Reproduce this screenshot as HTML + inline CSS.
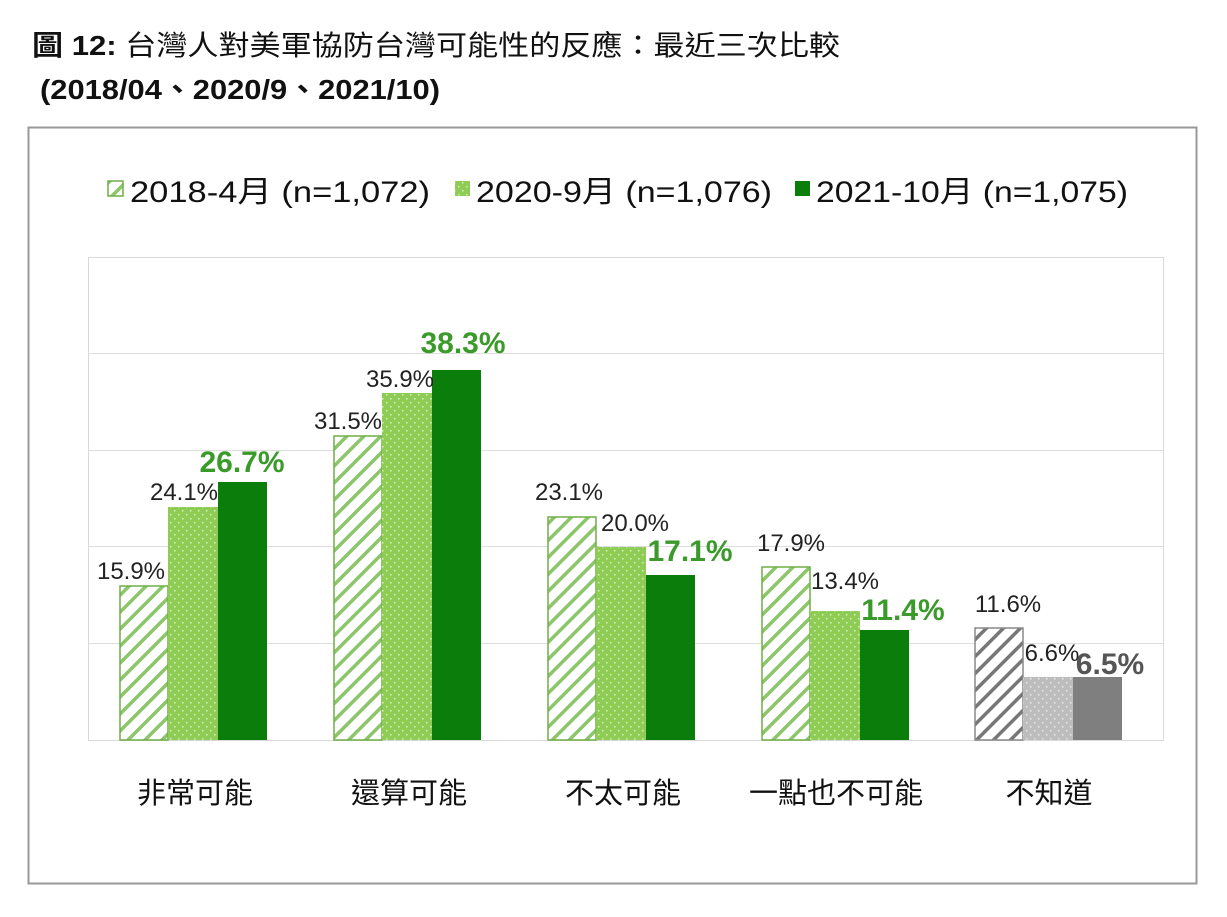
<!DOCTYPE html>
<html><head><meta charset="utf-8"><style>
body{margin:0;background:#fff;width:1227px;height:917px;overflow:hidden}
svg{display:block}
text{font-family:"Liberation Sans","Noto Sans CJK TC",sans-serif}
</style></head><body>
<svg width="1227" height="917" viewBox="0 0 1227 917">
<defs>
<pattern id="hg" width="12" height="12" patternUnits="userSpaceOnUse" patternTransform="rotate(45)">
<rect width="12" height="12" fill="#fff"/><rect width="3.5" height="12" fill="#8cc56a"/></pattern>
<pattern id="hk" width="12" height="12" patternUnits="userSpaceOnUse" patternTransform="rotate(45)">
<rect width="12" height="12" fill="#fff"/><rect width="3.5" height="12" fill="#777"/></pattern>
<pattern id="dg" width="8" height="8" patternUnits="userSpaceOnUse">
<rect width="8" height="8" fill="#8fcc55"/><rect x="2" y="2" width="1.5" height="1.5" fill="#d6efc0"/><rect x="6" y="6" width="1.5" height="1.5" fill="#d6efc0"/></pattern>
<pattern id="dk" width="8" height="8" patternUnits="userSpaceOnUse">
<rect width="8" height="8" fill="#bdbdbd"/><rect x="2" y="2" width="1.5" height="1.5" fill="#e8e8e8"/><rect x="6" y="6" width="1.5" height="1.5" fill="#e8e8e8"/></pattern>
</defs>
<text x="32" y="55" font-size="28" fill="#111" textLength="808" lengthAdjust="spacingAndGlyphs"><tspan font-weight="bold">圖 12:</tspan> 台灣人對美軍協防台灣可能性的反應：最近三次比較</text>
<text x="40" y="99" font-size="28" font-weight="bold" fill="#111" textLength="400" lengthAdjust="spacingAndGlyphs">(2018/04、2020/9、2021/10)</text>
<rect x="28.5" y="127.5" width="1168" height="756" fill="#fff" stroke="#999" stroke-width="2"/>
<rect x="88.5" y="257.5" width="1075" height="483" fill="none" stroke="#d9d9d9"/>
<g stroke="#dedede">
<line x1="88" x2="1163" y1="353.5" y2="353.5"/><line x1="88" x2="1163" y1="450.5" y2="450.5"/>
<line x1="88" x2="1163" y1="546.5" y2="546.5"/><line x1="88" x2="1163" y1="643.5" y2="643.5"/>
</g>
<!-- legend -->
<rect x="108" y="181" width="15" height="15" fill="url(#hg)" stroke="#70ad47" stroke-width="1.5"/>
<text x="130" y="202" font-size="30" fill="#111" textLength="300" lengthAdjust="spacingAndGlyphs">2018-4月 (n=1,072)</text>
<rect x="455" y="181" width="15" height="15" fill="url(#dg)"/>
<text x="476" y="202" font-size="30" fill="#111" textLength="296" lengthAdjust="spacingAndGlyphs">2020-9月 (n=1,076)</text>
<rect x="795" y="181" width="15" height="15" fill="#0a7d0a"/>
<text x="816" y="202" font-size="30" fill="#111" textLength="312" lengthAdjust="spacingAndGlyphs">2021-10月 (n=1,075)</text>
<!-- bars -->
<g stroke-width="1.5">
<rect x="120" y="586" width="48" height="154" fill="url(#hg)" stroke="#70ad47"/>
<rect x="168" y="507" width="50" height="233" fill="url(#dg)"/>
<rect x="218" y="482" width="49" height="258" fill="#0a7d0a"/>
<rect x="334" y="436" width="48" height="304" fill="url(#hg)" stroke="#70ad47"/>
<rect x="382" y="393" width="50" height="347" fill="url(#dg)"/>
<rect x="432" y="370" width="49" height="370" fill="#0a7d0a"/>
<rect x="548" y="517" width="48" height="223" fill="url(#hg)" stroke="#70ad47"/>
<rect x="596" y="547" width="50" height="193" fill="url(#dg)"/>
<rect x="646" y="575" width="49" height="165" fill="#0a7d0a"/>
<rect x="762" y="567" width="48" height="173" fill="url(#hg)" stroke="#70ad47"/>
<rect x="810" y="611" width="50" height="129" fill="url(#dg)"/>
<rect x="860" y="630" width="49" height="110" fill="#0a7d0a"/>
<rect x="975" y="628" width="48" height="112" fill="url(#hk)" stroke="#888"/>
<rect x="1023" y="677" width="50" height="63" fill="url(#dk)"/>
<rect x="1073" y="677" width="49" height="63" fill="#7f7f7f"/>
</g>
<g font-size="24" fill="#222" text-anchor="middle">
<text x="131" y="579">15.9%</text><text x="184" y="500">24.1%</text>
<text x="348" y="429">31.5%</text><text x="400" y="387">35.9%</text>
<text x="569" y="500">23.1%</text><text x="635" y="531">20.0%</text>
<text x="791" y="551">17.9%</text><text x="845" y="589">13.4%</text>
<text x="1008" y="612">11.6%</text><text x="1052" y="661">6.6%</text>
</g>
<g font-size="30" font-weight="bold" fill="#3a9a2a" text-anchor="middle">
<text x="242" y="472">26.7%</text><text x="463" y="353">38.3%</text>
<text x="690" y="561">17.1%</text><text x="903" y="620">11.4%</text>
<text x="1110" y="674" fill="#555">6.5%</text>
</g>
<g font-size="29" fill="#111" text-anchor="middle">
<text x="195" y="803">非常可能</text><text x="409" y="803">還算可能</text>
<text x="623" y="803">不太可能</text><text x="836" y="803">一點也不可能</text>
<text x="1049" y="803">不知道</text>
</g>
</svg>
</body></html>
